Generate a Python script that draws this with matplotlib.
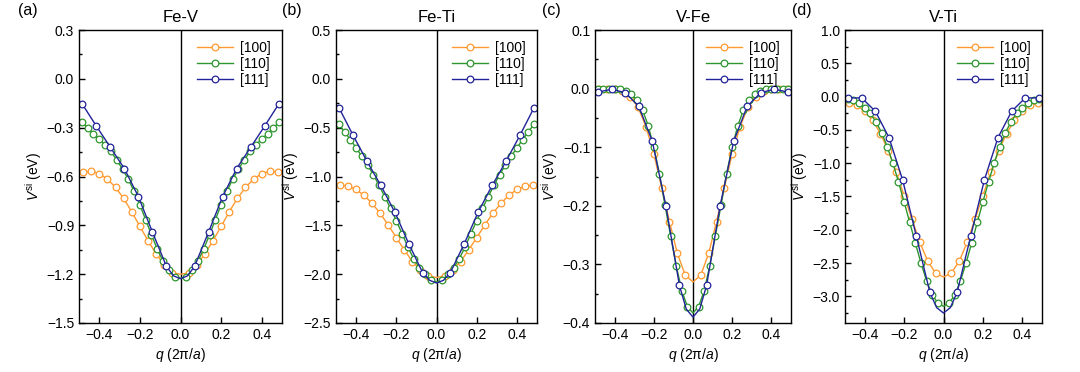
import numpy as np
import matplotlib.pyplot as plt
from matplotlib.ticker import MultipleLocator, FuncFormatter

plt.rcParams['font.family'] = ['Liberation Sans', 'DejaVu Sans']
plt.rcParams['mathtext.fontset'] = 'custom'
plt.rcParams['mathtext.rm'] = 'Liberation Sans'
plt.rcParams['mathtext.it'] = 'Liberation Sans:italic'

# q sampling along each direction (positive half, units of 2pi/a)
q100 = [0.04, 0.08, 0.12, 0.16, 0.20, 0.24, 0.28, 0.32, 0.36, 0.40, 0.44, 0.48]
q110 = [0.0286, 0.0571, 0.0857, 0.1143, 0.1429, 0.1714, 0.2, 0.2286, 0.2571,
        0.2857, 0.3143, 0.3429, 0.3714, 0.4, 0.4286, 0.4571, 0.4857]
q111 = [0.0692, 0.1384, 0.2076, 0.2768, 0.346, 0.4152, 0.4844]
q111_mid = 0.0346   # extra point on the [111] line (no marker)

panels = ['Fe-V', 'Fe-Ti', 'V-Fe', 'V-Ti']
tags = ['(a)', '(b)', '(c)', '(d)']

# values at q = 0 (line only) and at the sampled q (from centre outward)
feV_100_c = -1.20
feV_100 = [-1.193, -1.142, -1.076, -0.994, -0.907, -0.817, -0.735, -0.667, -0.616, -0.583, -0.567, -0.573]
feV_110_c = -1.225
feV_110 = [-1.217, -1.177, -1.121, -1.046, -0.958, -0.866, -0.774, -0.692, -0.616, -0.555,
           -0.498, -0.446, -0.406, -0.371, -0.338, -0.303, -0.266]
feV_111_c = -1.228
feV_111_m = -1.21
feV_111 = [-1.152, -0.941, -0.723, -0.551, -0.420, -0.289, -0.154]

feTi_100_c = -2.034
feTi_100 = [-2.017, -1.956, -1.871, -1.752, -1.626, -1.497, -1.378, -1.276, -1.194, -1.133, -1.099, -1.088]
feTi_110_c = -2.08
feTi_110 = [-2.06, -2.0, -1.932, -1.84, -1.718, -1.585, -1.452, -1.327, -1.207, -1.092,
            -0.98, -0.884, -0.793, -0.707, -0.622, -0.544, -0.463]
feTi_111_c = -2.09
feTi_111_m = -2.063
feTi_111 = [-1.983, -1.687, -1.364, -1.092, -0.844, -0.578, -0.299]

vFe_100_c = -0.330
vFe_100 = [-0.318, -0.281, -0.227, -0.169, -0.111, -0.065, -0.032, -0.014, -0.004, -0.001, 0.0, 0.0]
vFe_110_c = -0.383
vFe_110 = [-0.372, -0.345, -0.302, -0.251, -0.199, -0.145, -0.100, -0.063, -0.037, -0.020,
           -0.010, -0.004, -0.001, 0.0, 0.0, 0.0, 0.0]
vFe_111_c = -0.390
vFe_111_m = -0.376
vFe_111 = [-0.336, -0.200, -0.090, -0.030, -0.007, -0.001, -0.006]

vTi_100_c = -2.71
vTi_100 = [-2.65, -2.47, -2.19, -1.84, -1.49, -1.13, -0.815, -0.555, -0.355, -0.22, -0.13, -0.09]
vTi_110_c = -3.15
vTi_110 = [-3.10, -2.98, -2.77, -2.50, -2.20, -1.89, -1.58, -1.28, -1.0, -0.75,
           -0.54, -0.38, -0.25, -0.165, -0.10, -0.05, -0.03]
vTi_111_c = -3.25
vTi_111_m = -3.17
vTi_111 = [-2.94, -2.09, -1.25, -0.615, -0.22, -0.02, -0.02]

data = [
    (feV_100_c, feV_100, feV_110_c, feV_110, feV_111_c, feV_111_m, feV_111),
    (feTi_100_c, feTi_100, feTi_110_c, feTi_110, feTi_111_c, feTi_111_m, feTi_111),
    (vFe_100_c, vFe_100, vFe_110_c, vFe_110, vFe_111_c, vFe_111_m, vFe_111),
    (vTi_100_c, vTi_100, vTi_110_c, vTi_110, vTi_111_c, vTi_111_m, vTi_111),
]

ylims = [(-1.5, 0.3), (-2.5, 0.5), (-0.4, 0.1), (-3.4, 1.0)]
ymajor = [0.3, 0.5, 0.1, 0.5]
lefts = [79, 336, 595, 845]
widths = [203, 201, 196, 197]

c100 = '#ff9a30'
c110 = '#2e962e'
c111 = '#22229a'


def full_curve(qh, vh, vc, extra_q=None, extra_v=None):
    # mirror the half-branch, put the q=0 value (and extra line-only points) in
    qs = list(qh)
    vs = list(vh)
    mark = [True] * len(qs)
    if extra_q is not None:
        qs = [extra_q] + qs
        vs = [extra_v] + vs
        mark = [False] + mark
    q = [-x for x in qs[::-1]] + [0.0] + qs
    v = vs[::-1] + [vc] + vs
    m = mark[::-1] + [False] + mark
    idx = [i for i, f in enumerate(m) if f]
    return q, v, idx


def fmt(x, pos):
    if abs(x) < 1e-9:
        x = 0.0
    return ('%.1f' % x).replace('-', '\u2212')


fig = plt.figure(figsize=(10.8, 3.72), dpi=100)

for i in range(4):
    c1, v1, c2, v2, c3, m3, v3 = data[i]
    ax = fig.add_axes([lefts[i] / 1080, 1 - 323 / 372, widths[i] / 1080, 293 / 372])

    style = dict(lw=1.0, marker='o', ms=4.8, mfc='white', mew=0.9)
    q, v, idx = full_curve(q100, v1, c1)
    ax.plot(q, v, color=c100, markevery=idx, label='[100]', **style)
    q, v, idx = full_curve(q110, v2, c2)
    ax.plot(q, v, color=c110, markevery=idx, label='[110]', **style)
    q, v, idx = full_curve(q111, v3, c3, q111_mid, m3)
    ax.plot(q, v, color=c111, markevery=idx, label='[111]', **style)

    ax.axvline(0, color='black', lw=1.0, zorder=0.5)

    ax.set_xlim(-0.5, 0.5)
    ax.set_ylim(*ylims[i])
    ax.set_xticks([-0.4, -0.2, 0.0, 0.2, 0.4])
    ax.xaxis.set_major_formatter(FuncFormatter(fmt))
    ax.yaxis.set_major_locator(MultipleLocator(ymajor[i]))
    ax.yaxis.set_minor_locator(MultipleLocator(ymajor[i] / 2))
    ax.yaxis.set_major_formatter(FuncFormatter(fmt))
    ax.tick_params(direction='in', length=4, width=1, labelsize=10)
    ax.tick_params(which='minor', direction='in', length=2, width=1)
    for s in ax.spines.values():
        s.set_linewidth(1.0)

    ax.set_xlabel(r'$q$ (2π/$a$)', fontsize=10, labelpad=3)
    ax.set_ylabel(r'$V^{\mathrm{si}}$ (eV)', fontsize=10, labelpad=2)
    ax.set_title(panels[i], fontsize=12, pad=6)
    ax.text(-0.3 if i == 0 else -0.27, 1.065, tags[i], transform=ax.transAxes,
            fontsize=11.5, va='center')

    ax.legend(loc='upper right', frameon=False, fontsize=10, handlelength=2.6,
              handletextpad=0.5, labelspacing=0.15, borderaxespad=0.4)

plt.savefig('out.png', dpi=100)
